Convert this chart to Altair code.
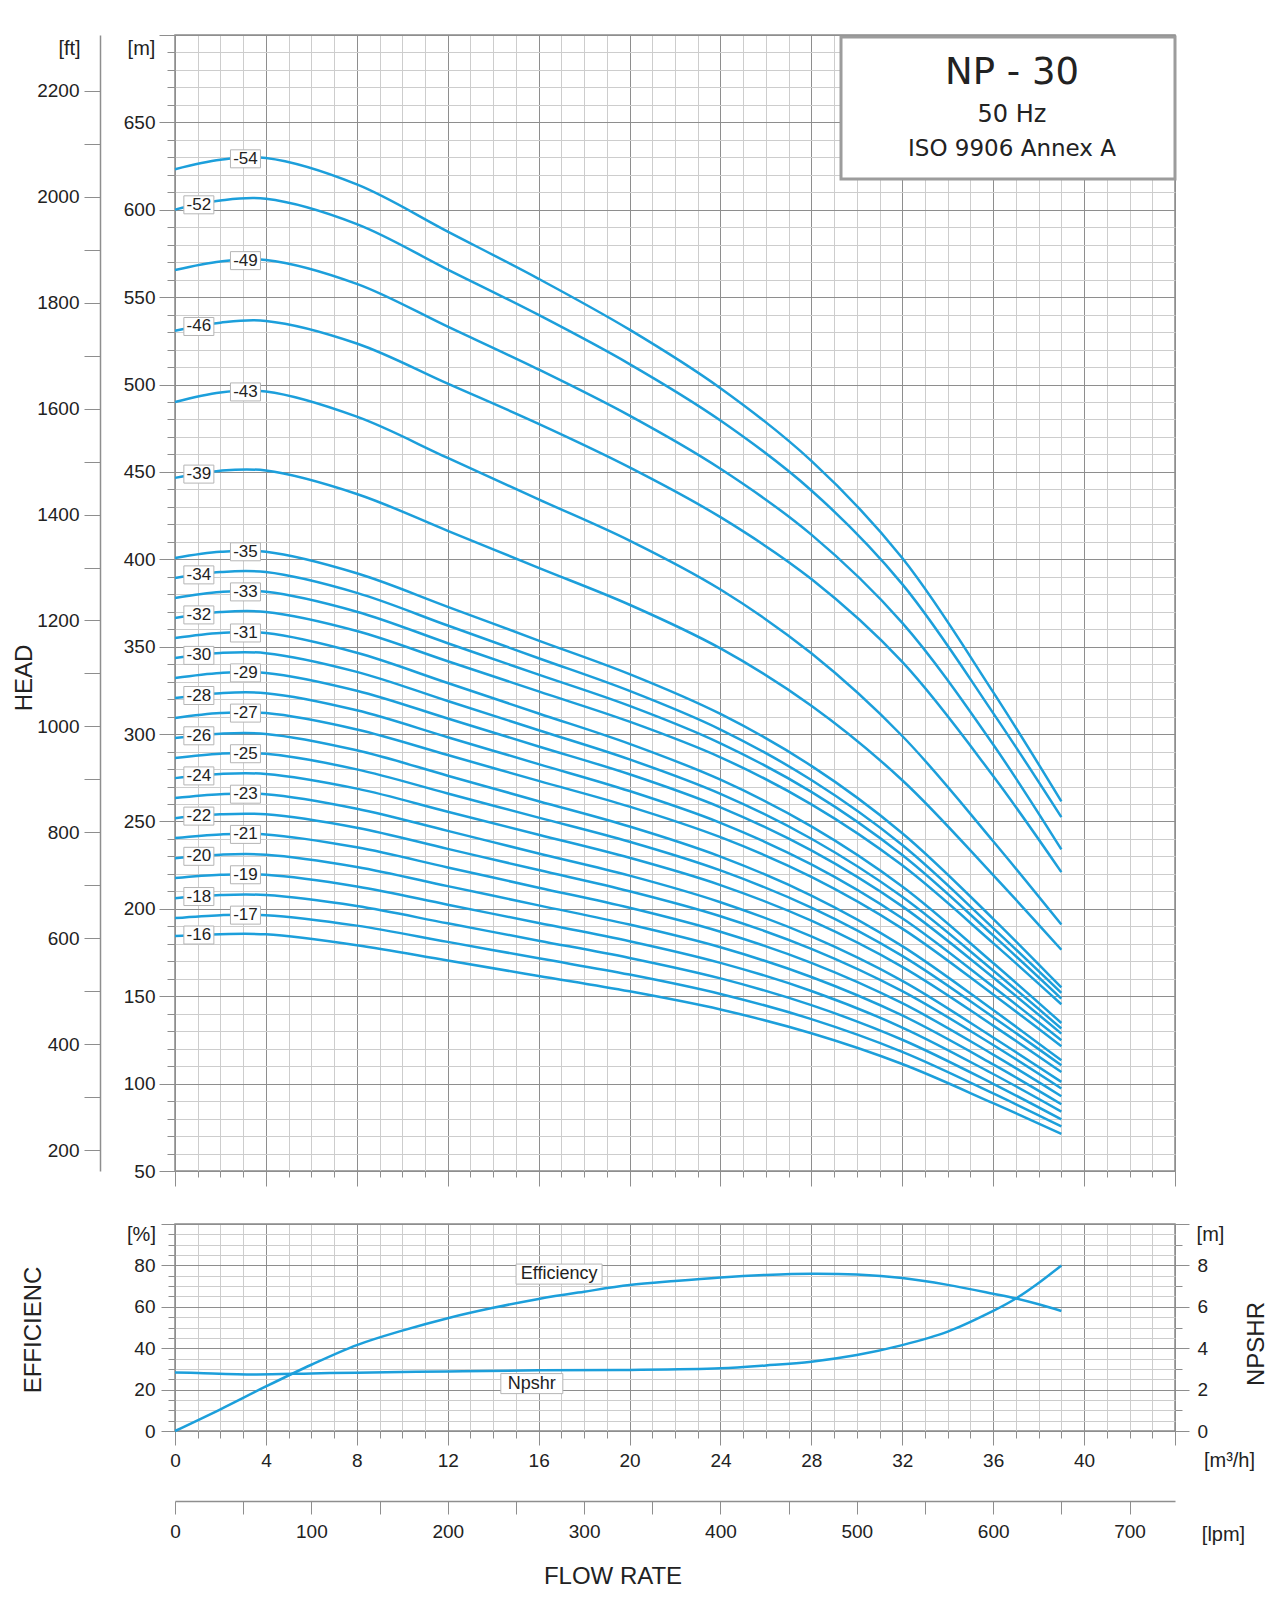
import numpy as np
import pandas as pd
import altair as alt

# ---------------- data ----------------
Q_PTS = [0, 2, 4, 8, 12, 16, 20, 24, 28, 32, 36, 39]  # m3/h

H54 = [623.2, 628.6, 629.6, 614.5, 587.5, 560.5, 531.4, 497.9, 456.3, 400.7, 324.0, 261.5]
H52 = [600.1, 605.3, 606.3, 591.8, 565.8, 539.8, 511.7, 479.4, 439.4, 385.8, 312.0, 252.5]
H49 = [565.5, 570.4, 571.3, 557.6, 533.1, 508.6, 482.2, 451.8, 414.1, 363.6, 294.0, 234.0]
H46 = [530.8, 535.4, 536.4, 523.5, 500.5, 477.5, 452.6, 424.1, 388.7, 341.3, 276.0, 221.0]
H43 = [490.0, 495.5, 496.0, 481.6, 458.0, 434.3, 410.7, 382.7, 346.2, 298.9, 238.7, 191.0]
H39 = [446.6, 450.7, 450.8, 437.4, 416.3, 395.1, 374.0, 349.0, 316.2, 273.6, 219.3, 176.6]
H35 = [400.8, 404.3, 404.3, 392.0, 372.8, 353.5, 334.3, 311.5, 281.8, 243.3, 194.3, 155.0]
H34 = [389.3, 392.7, 392.7, 380.8, 362.1, 343.4, 324.7, 302.6, 273.7, 236.5, 189.0, 151.9]
H33 = [377.9, 381.3, 381.4, 370.0, 352.0, 334.0, 316.1, 294.7, 266.9, 230.8, 184.8, 148.6]
H32 = [366.4, 369.8, 369.9, 359.0, 341.7, 324.4, 307.1, 286.7, 259.8, 224.9, 180.4, 145.4]
H31 = [355.0, 357.9, 357.8, 346.5, 329.2, 311.8, 294.4, 273.9, 247.2, 212.8, 169.0, 134.7]
H30 = [343.5, 346.4, 346.3, 335.6, 318.9, 302.2, 285.5, 265.8, 240.1, 206.9, 164.7, 131.5]
H29 = [332.1, 335.0, 335.0, 324.8, 308.9, 292.9, 277.0, 258.1, 233.4, 201.4, 160.7, 128.6]
H28 = [320.6, 323.4, 323.4, 313.6, 298.2, 282.8, 267.4, 249.2, 225.4, 194.6, 155.4, 124.8]
H27 = [309.2, 312.0, 312.0, 302.6, 288.0, 273.2, 258.5, 241.0, 218.3, 188.7, 151.0, 121.4]
H26 = [297.7, 300.2, 300.1, 290.7, 276.2, 261.6, 247.1, 229.9, 207.6, 178.7, 142.1, 113.3]
H25 = [286.3, 288.8, 288.7, 279.8, 266.0, 252.2, 238.4, 222.0, 200.7, 173.1, 138.0, 110.5]
H24 = [274.8, 277.2, 277.2, 268.8, 255.6, 242.4, 229.2, 213.6, 193.2, 166.8, 133.2, 106.6]
H23 = [263.4, 265.6, 265.6, 257.3, 244.6, 231.7, 219.0, 203.8, 184.2, 158.8, 126.4, 101.0]
H22 = [251.9, 254.1, 254.1, 246.4, 234.3, 222.2, 210.1, 195.8, 177.1, 152.9, 122.1, 97.2]
H21 = [240.5, 242.6, 242.6, 235.2, 223.7, 212.1, 200.6, 186.9, 169.1, 146.0, 116.6, 92.8]
H20 = [229.0, 231.0, 231.0, 224.0, 213.0, 202.0, 191.0, 178.0, 161.0, 139.0, 111.0, 88.2]
H19 = [217.6, 219.5, 219.5, 212.8, 202.4, 191.9, 181.5, 169.1, 153.0, 132.1, 105.5, 84.0]
H18 = [206.1, 207.9, 207.9, 201.6, 191.7, 181.8, 171.9, 160.2, 144.9, 125.1, 99.9, 79.5]
H17 = [194.7, 196.4, 196.4, 190.4, 181.1, 171.7, 162.4, 151.3, 136.9, 118.2, 94.4, 75.5]
H16 = [184.5, 185.5, 185.4, 179.2, 170.4, 161.6, 152.8, 142.4, 128.8, 111.2, 88.8, 71.3]

STAGES = [54, 52, 49, 46, 43, 39, 35, 34, 33, 32, 31, 30, 29, 28, 27, 26,
          25, 24, 23, 22, 21, 20, 19, 18, 17, 16]
HEADS = [H54, H52, H49, H46, H43, H39, H35, H34, H33, H32, H31, H30, H29, H28,
         H27, H26, H25, H24, H23, H22, H21, H20, H19, H18, H17, H16]
# label position along the flow axis: alternating right / left
LABEL_Q = [3.1, 1.05, 3.1, 1.05, 3.1, 1.05, 3.1, 1.05, 3.1, 1.05, 3.1, 1.05, 3.1,
           1.05, 3.1, 1.05, 3.1, 1.05, 3.1, 1.05, 3.1, 1.05, 3.1, 1.05, 3.1, 1.05]

EFF_Q = [0, 2, 4, 6, 8, 10, 12, 14, 16, 18, 20, 22, 24, 26, 28, 30, 32, 34, 36, 37, 38, 39]
EFF = [0, 10.5, 21.5, 32, 41.5, 48.5, 54.5, 59.5, 63.8, 67.3, 70.5, 72.5, 74.2, 75.4,
       76.0, 75.6, 73.9, 70.6, 66.3, 64.0, 61.2, 58.0]

NPSH_Q = [0, 1, 3.5, 6, 8, 12, 16, 20, 24, 26, 28, 30, 32, 34, 36, 37, 38, 39]
NPSH = [2.83, 2.80, 2.73, 2.78, 2.82, 2.88, 2.93, 2.95, 3.03, 3.17, 3.35, 3.67, 4.15,
        4.80, 5.80, 6.40, 7.15, 8.0]

EFF_LABEL = ["Efficiency"]
EFF_LABEL_Q = [16.9]
EFF_LABEL_V = [75.8]
NPSH_LABEL = ["Npshr"]
NPSH_LABEL_Q = [15.7]
NPSH_LABEL_V = [2.29]

TITLE_LINES = ["NP - 30", "50 Hz", "ISO 9906 Annex A"]

# feet scale as printed (slightly compressed against the metre scale)
FT_DOMAIN = [161, 2305]

# ---------------- styling ----------------
BLUE = "#1c9fdb"
MAJ = "#8e8e8e"
MIN = "#cdcdcd"
BORDER = "#8a8a8a"
FONT = "Liberation Sans"
TXT = "#222222"
LFS = 19
W, H_TOP, H_BOT = 1000, 1136, 207
TC = 500  # keep every listed tick
INTERP = "catmull-rom"


def cond(test, a, b):
    return {"condition": {"test": test, "value": a}, "value": b}


# ---------------- tables ----------------
df_curves = pd.DataFrame(
    [{"stage": s, "Q": q, "H": h} for s, hs in zip(STAGES, HEADS) for q, h in zip(Q_PTS, hs)]
)
df_labels = pd.DataFrame({
    "label": [f"-{s}" for s in STAGES],
    "Q": LABEL_Q,
    "H": [float(np.interp(lq, Q_PTS, hs)) for lq, hs in zip(LABEL_Q, HEADS)],
})
df_eff = pd.DataFrame({"Q": EFF_Q, "eff": EFF})
df_npsh = pd.DataFrame({"Q": NPSH_Q, "npsh": NPSH})
df_eff_lab = pd.DataFrame({"label": EFF_LABEL, "Q": EFF_LABEL_Q, "eff": EFF_LABEL_V})
df_npsh_lab = pd.DataFrame({"label": NPSH_LABEL, "Q": NPSH_LABEL_Q, "npsh": NPSH_LABEL_V})
one = pd.DataFrame({"k": [0]})

# ---------------- top panel ----------------
x_top = alt.X(
    "Q:Q",
    scale=alt.Scale(domain=[0, 44], nice=False, zero=False),
    axis=alt.Axis(
        values=list(range(0, 45)), tickCount=TC, labels=False, title=None, domain=False,
        tickSize=cond("datum.value % 4 === 0", 15, 6), tickColor=MAJ,
        grid=True, gridWidth=1, gridColor=cond("datum.value % 4 === 0", MAJ, MIN),
    ),
)
T_M = "datum.value % 50 === 0 && datum.value < 700"
y_m = alt.Y(
    "H:Q",
    scale=alt.Scale(domain=[50, 700], nice=False, zero=False),
    axis=alt.Axis(
        values=list(range(50, 701, 10)), tickCount=TC, labelOverlap=False, format="d",
        labelFlush=False,
        labelExpr=f"{T_M} ? datum.label : ''", labelFontSize=cond(T_M, LFS, 0),
        tickSize=cond("datum.value % 50 === 0", 16, 8), tickColor=MAJ,
        labelPadding=4, domain=False,
        grid=True, gridWidth=1, gridColor=cond("datum.value % 50 === 0", MAJ, MIN),
        title="[m]", titleAngle=0, titleX=-34, titleY=13, titleAlign="center",
        titleBaseline="middle",
    ),
)

curves = alt.Chart(df_curves).mark_line(
    color=BLUE, strokeWidth=2.5, interpolate=INTERP
).encode(x=x_top, y=y_m, detail="stage:N", order="Q:Q")

BOX = "M-1,-0.6L1,-0.6L1,0.6L-1,0.6Z"
boxes = alt.Chart(df_labels).mark_point(
    shape=BOX, size=900, filled=True, fill="white", fillOpacity=1,
    stroke="#b5b5b5", strokeWidth=1, strokeOpacity=1, opacity=1,
).encode(x="Q:Q", y="H:Q")
labels = alt.Chart(df_labels).mark_text(
    font=FONT, fontSize=17, color=TXT
).encode(x="Q:Q", y="H:Q", text="label:N")

tbox = alt.Chart(one).mark_rect(
    fill="white", stroke="#9c9c9c", strokeWidth=3
).encode(x=alt.value(666), x2=alt.value(1000), y=alt.value(2), y2=alt.value(144))
t1 = alt.Chart(one).mark_text(font="DejaVu Sans", fontSize=37, color=TXT).encode(
    x=alt.value(837), y=alt.value(38), text=alt.value(TITLE_LINES[0]))
t2 = alt.Chart(one).mark_text(font="DejaVu Sans", fontSize=24, color=TXT).encode(
    x=alt.value(837), y=alt.value(80), text=alt.value(TITLE_LINES[1]))
t3 = alt.Chart(one).mark_text(font="DejaVu Sans", fontSize=23, color=TXT).encode(
    x=alt.value(837), y=alt.value(114), text=alt.value(TITLE_LINES[2]))
head = alt.Chart(one).mark_text(font=FONT, fontSize=24, angle=270, color=TXT).encode(
    x=alt.value(-150), y=alt.value(643), text=alt.value("HEAD"))

main = alt.layer(curves, boxes, labels, tbox, t1, t2, t3, head)

T_FT = "datum.value % 200 === 0"
ft_layer = alt.Chart(pd.DataFrame({"ft": [200, 2200]})).mark_point(opacity=0).encode(
    y=alt.Y(
        "ft:Q",
        scale=alt.Scale(domain=FT_DOMAIN, nice=False, zero=False),
        axis=alt.Axis(
            orient="left", offset=75, values=list(range(200, 2201, 100)), tickCount=TC,
            format="d", labelOverlap=False, labelFlush=False,
            labelExpr=f"{T_FT} ? datum.label : ''", labelFontSize=cond(T_FT, LFS, 0),
            tickSize=16, tickColor=MAJ, domainColor=MAJ, domainWidth=1.5,
            labelPadding=5, grid=False,
            title="[ft]", titleAngle=0, titleX=-31, titleY=13, titleAlign="center",
            titleBaseline="middle",
        ),
    )
)

top = alt.layer(main, ft_layer).resolve_scale(y="independent").properties(
    width=W, height=H_TOP)

# ---------------- bottom panel ----------------
T_X = "datum.value % 4 === 0 && datum.value < 44"
x_bot = alt.X(
    "Q:Q",
    scale=alt.Scale(domain=[0, 44], nice=False, zero=False),
    axis=alt.Axis(
        values=list(range(0, 45)), tickCount=TC, labelOverlap=False, format="d",
        labelFlush=False,
        labelExpr=f"{T_X} ? datum.label : ''", labelFontSize=cond(T_X, LFS, 0),
        tickSize=cond("datum.value % 4 === 0", 14, 7), tickColor=MAJ, domain=False,
        labelPadding=6,
        grid=True, gridWidth=1, gridColor=cond("datum.value % 4 === 0", MAJ, MIN),
        title="[m³/h]", titleAngle=0, titleX=1054, titleY=29, titleAlign="center",
        titleBaseline="middle",
    ),
)
T_E = "datum.value % 20 === 0 && datum.value < 100"
y_eff = alt.Y(
    "eff:Q",
    scale=alt.Scale(domain=[0, 100], nice=False, zero=False),
    axis=alt.Axis(
        values=list(range(0, 101, 5)), tickCount=TC, labelOverlap=False, format="d",
        labelFlush=False,
        labelExpr=f"{T_E} ? datum.label : ''", labelFontSize=cond(T_E, LFS, 0),
        tickSize=cond("datum.value % 20 === 0", 14, 7), tickColor=MAJ, domain=False,
        labelPadding=6,
        grid=True, gridWidth=1, gridColor=cond("datum.value % 20 === 0", MAJ, MIN),
        title="[%]", titleAngle=0, titleX=-34, titleY=10, titleAlign="center",
        titleBaseline="middle",
    ),
)
eff_line = alt.Chart(df_eff).mark_line(
    color=BLUE, strokeWidth=2.5, interpolate=INTERP).encode(x=x_bot, y=y_eff, order="Q:Q")
eff_box = alt.Chart(df_eff_lab).mark_point(
    shape="M-1,-0.233L1,-0.233L1,0.233L-1,0.233Z", size=86 * 86, filled=True,
    fill="white", fillOpacity=1, stroke="#b5b5b5", strokeWidth=1, strokeOpacity=1, opacity=1,
).encode(x="Q:Q", y="eff:Q")
eff_txt = alt.Chart(df_eff_lab).mark_text(font=FONT, fontSize=18, color=TXT).encode(
    x="Q:Q", y="eff:Q", text="label:N")
eff_title = alt.Chart(one).mark_text(font=FONT, fontSize=24, angle=270, color=TXT).encode(
    x=alt.value(-141), y=alt.value(106), text=alt.value("EFFICIENC"))
flow_title = alt.Chart(one).mark_text(font=FONT, fontSize=24, color=TXT).encode(
    x=alt.value(438), y=alt.value(353), text=alt.value("FLOW RATE"))
eff_layer = alt.layer(eff_line, eff_box, eff_txt, eff_title, flow_title)

T_N = "datum.value % 2 === 0 && datum.value < 10"
y_npsh = alt.Y(
    "npsh:Q",
    scale=alt.Scale(domain=[0, 10], nice=False, zero=False),
    axis=alt.Axis(
        orient="right", values=[i / 2 for i in range(21)], tickCount=TC, labelOverlap=False,
        format="d", labelFlush=False,
        labelExpr=f"{T_N} ? datum.label : ''", labelFontSize=cond(T_N, LFS, 0),
        tickSize=cond("datum.value % 2 === 0", 14, 7), tickColor=MAJ, domain=False,
        labelPadding=8, grid=False,
        title="[m]", titleAngle=0, titleX=35, titleY=10, titleAlign="center",
        titleBaseline="middle",
    ),
)
x_npsh = alt.X("Q:Q", scale=alt.Scale(domain=[0, 44], nice=False, zero=False), axis=None)
npsh_line = alt.Chart(df_npsh).mark_line(
    color=BLUE, strokeWidth=2.5, interpolate=INTERP).encode(x=x_npsh, y=y_npsh, order="Q:Q")
npsh_box = alt.Chart(df_npsh_lab).mark_point(
    shape="M-1,-0.323L1,-0.323L1,0.323L-1,0.323Z", size=62 * 62, filled=True,
    fill="white", fillOpacity=1, stroke="#b5b5b5", strokeWidth=1, strokeOpacity=1, opacity=1,
).encode(x=x_npsh, y="npsh:Q")
npsh_txt = alt.Chart(df_npsh_lab).mark_text(font=FONT, fontSize=18, color=TXT).encode(
    x=x_npsh, y="npsh:Q", text="label:N")
npsh_title = alt.Chart(one).mark_text(font=FONT, fontSize=24, angle=270, color=TXT).encode(
    x=alt.value(1082), y=alt.value(120), text=alt.value("NPSHR"))
npsh_layer = alt.layer(npsh_line, npsh_box, npsh_txt, npsh_title)

T_L = "datum.value % 100 === 0"
lpm_layer = alt.Chart(pd.DataFrame({"lpm": [0, 700]})).mark_point(opacity=0).encode(
    x=alt.X(
        "lpm:Q",
        scale=alt.Scale(domain=[0, 44 * 1000 / 60], nice=False, zero=False),
        axis=alt.Axis(
            orient="bottom", offset=70, values=list(range(0, 701, 50)), tickCount=TC,
            labelOverlap=False, format="d", labelFlush=False,
            labelExpr=f"{T_L} ? datum.label : ''", labelFontSize=cond(T_L, LFS, 0),
            tickSize=13, tickColor=MAJ, domainColor=MAJ, domainWidth=1.5,
            labelPadding=8, grid=False,
            title="[lpm]", titleAngle=0, titleX=1048, titleY=33, titleAlign="center",
            titleBaseline="middle",
        ),
    )
)

bottom = alt.layer(eff_layer, npsh_layer, lpm_layer).resolve_scale(
    x="independent", y="independent").properties(width=W, height=H_BOT)

chart = alt.vconcat(top, bottom, spacing=34).properties(
    padding={"left": 4, "top": 25, "right": 0, "bottom": 5}
).configure_view(
    stroke=BORDER, strokeWidth=1.5
).configure_axis(
    labelFont=FONT, labelFontSize=LFS, labelColor=TXT,
    titleFont=FONT, titleFontSize=20, titleFontWeight="normal", titleColor=TXT,
)

chart.save("out.html", embed_options={"renderer": "svg", "actions": False})
